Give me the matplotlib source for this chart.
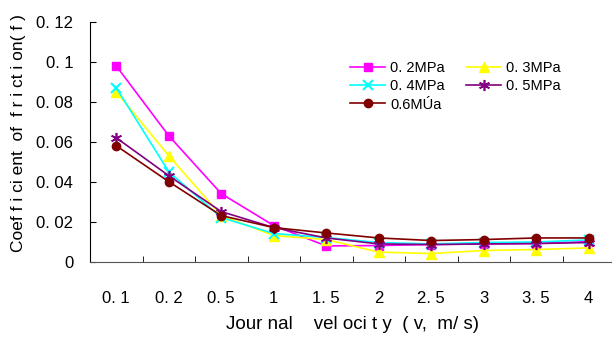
import matplotlib
matplotlib.use("Agg")
import matplotlib.pyplot as plt
import numpy as np

plt.rcParams['font.family'] = ['Liberation Sans', 'DejaVu Sans']

categories = ["0. 1", "0. 2", "0. 5", "1", "1. 5", "2", "2. 5", "3", "3. 5", "4"]
p02 = [0.098, 0.063, 0.034, 0.018, 0.0078, 0.0080, 0.0085, 0.0088, 0.0090, 0.0100]
p03 = [0.085, 0.053, 0.023, 0.013, 0.0110, 0.0047, 0.0040, 0.0055, 0.0060, 0.0068]
p04 = [0.087, 0.045, 0.022, 0.014, 0.0120, 0.0095, 0.0088, 0.0095, 0.0098, 0.0108]
p05 = [0.062, 0.043, 0.025, 0.017, 0.0118, 0.0088, 0.0085, 0.0088, 0.0090, 0.0095]
p06 = [0.058, 0.040, 0.023, 0.017, 0.0143, 0.0118, 0.0105, 0.0110, 0.0118, 0.0118]
y_ticks = [0, 0.02, 0.04, 0.06, 0.08, 0.1, 0.12]
y_tick_labels = ["0", "0. 02", "0. 04", "0. 06", "0. 08", "0. 1", "0. 12"]

fig = plt.figure(figsize=(6.12, 3.37), dpi=100)
ax = fig.add_axes([90/612, (337-261.5)/337, (615-90)/612, (261.5-22)/337])

x = np.arange(len(categories))
lw = 1.2
h02, = ax.plot(x, p02, color="#FF00FF", marker="s", ms=6, lw=lw, label="0. 2MPa", zorder=3)
h03, = ax.plot(x, p03, color="#FFFF00", marker="^", ms=7, lw=lw, label="0. 3MPa", zorder=3)
h04, = ax.plot(x, p04, color="#00FFFF", marker="x", ms=7, mew=1.5, lw=lw, label="0. 4MPa", zorder=3)
h05, = ax.plot(x, p05, color="#800080", marker=(6, 2, 0), ms=8, mew=1.2, lw=lw, label="0. 5MPa", zorder=3)
h06, = ax.plot(x, p06, color="#800000", marker="o", ms=6, lw=lw, label="0.6MÚa", zorder=4)

ax.set_xlim(-0.5, len(categories) - 0.5)
ax.set_ylim(0, 0.12)
ax.set_yticks(y_ticks)
ax.set_yticklabels(y_tick_labels, fontsize=12)
ax.set_xticks(x)
ax.set_xticklabels(categories, fontsize=12)
ax.tick_params(axis='x', length=0, pad=21)
ax.set_xticks(np.arange(len(categories)) + 0.5, minor=True)
ax.tick_params(axis='x', which='minor', direction='in', length=4)
ax.tick_params(axis='y', direction='in', length=4, pad=12)

for s in ["top", "right"]:
    ax.spines[s].set_visible(False)
ax.spines["left"].set_color("black")
ax.spines["bottom"].set_color("#555555")

ax.set_xlabel("Jour nal    vel oci t y  ( v,  m/ s)", fontsize=13.5)
ax.xaxis.set_label_coords((352-90)/525, -(316-261.5)/239.5)
ax.set_ylabel("Coef f i ci ent  of  f r i ct i on( f )", fontsize=12.5)
ax.yaxis.set_label_coords(-(90-26)/525, (261.5-133)/239.5)

handles = [h02, h04, h06, h03, h05]
ax.legend(handles=handles, labels=[h.get_label() for h in handles],
          loc="upper left", bbox_to_anchor=((350-90)/525, 0.838), ncol=2, frameon=False,
          fontsize=10.5, handlelength=2.4, handletextpad=0.34, columnspacing=1.5,
          labelspacing=0.3, borderaxespad=0, borderpad=0)

fig.savefig("out.png", dpi=100)
